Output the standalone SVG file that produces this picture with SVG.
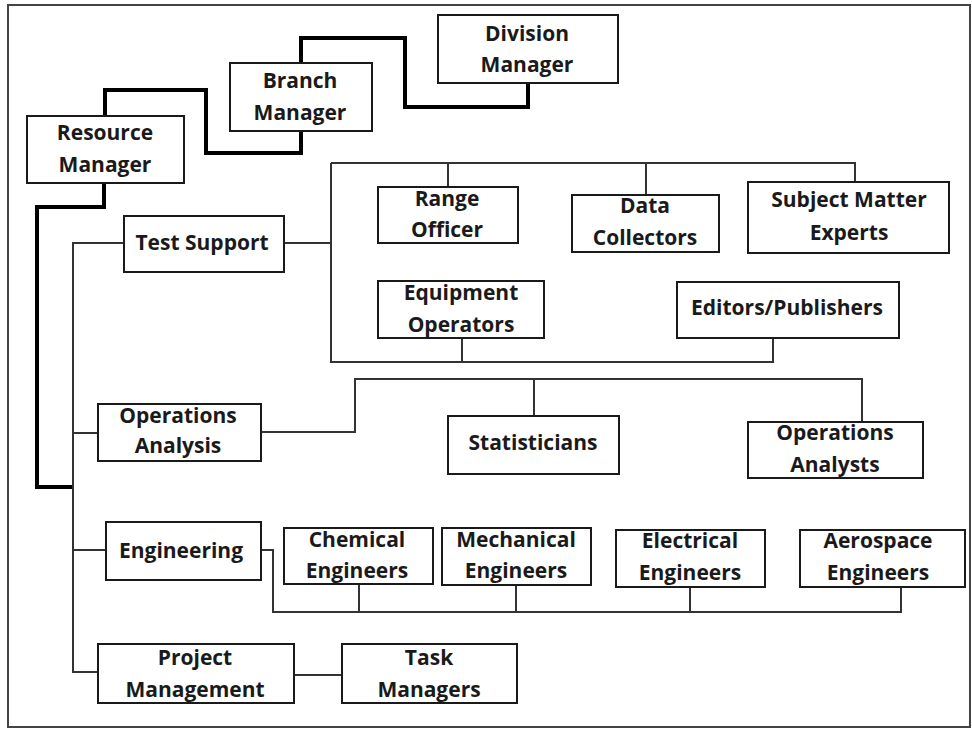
<svg xmlns="http://www.w3.org/2000/svg" width="972" height="729" viewBox="0 0 972 729">
<style>
.box{fill:#fff;stroke:#1a1a1a;stroke-width:2}
.t{font-family:"Open Sans","Liberation Sans",sans-serif;font-weight:700;font-size:21px;fill:#1a1a1a;text-anchor:middle}
.thick{fill:none;stroke:#000;stroke-width:4;stroke-linejoin:miter}
.thin{fill:none;stroke:#333;stroke-width:2}
</style>
<rect x="0" y="0" width="972" height="729" fill="#fff"/>
<rect x="8" y="5" width="962" height="722" fill="none" stroke="#444" stroke-width="2"/>
<g id="connectors">
<polyline class="thick" points="528,83 528,107 405,107 405,38 301,38 301,63"/>
<polyline class="thick" points="301,131 301,153 206,153 206,90 105,90 105,116"/>
<polyline class="thick" points="104,183 104,207 37,207 37,487 73,487"/>
<polyline class="thin" points="124,243 73,243 73,672 98,672"/>
<polyline class="thin" points="284,243 331,243"/>
<polyline class="thin" points="331,163 331,362 773,362 773,338"/>
<polyline class="thin" points="331,163 855,163 855,182"/>
<line class="thin" x1="448" y1="163" x2="448" y2="187"/>
<line class="thin" x1="646" y1="163" x2="646" y2="195"/>
<line class="thin" x1="462" y1="338" x2="462" y2="362"/>
<line class="thin" x1="73" y1="433" x2="98" y2="433"/>
<polyline class="thin" points="261,432 355,432 355,379 862,379 862,422"/>
<line class="thin" x1="534" y1="379" x2="534" y2="416"/>
<line class="thin" x1="73" y1="550" x2="106" y2="550"/>
<polyline class="thin" points="261,550 273,550 273,612 901,612 901,587"/>
<line class="thin" x1="359" y1="584" x2="359" y2="612"/>
<line class="thin" x1="516" y1="585" x2="516" y2="612"/>
<line class="thin" x1="690" y1="587" x2="690" y2="612"/>
<line class="thin" x1="294" y1="675" x2="342" y2="675"/>
</g>
<g id="division-manager"><rect class="box" x="438" y="15" width="180" height="68"/><text class="t" x="527" y="41">Division</text><text class="t" x="527" y="72">Manager</text></g>
<g id="branch-manager"><rect class="box" x="230" y="63" width="142" height="68"/><text class="t" x="300" y="88">Branch</text><text class="t" x="300" y="120">Manager</text></g>
<g id="resource-manager"><rect class="box" x="27" y="116" width="157" height="67"/><text class="t" x="105" y="140">Resource</text><text class="t" x="105" y="172">Manager</text></g>
<g id="test-support"><rect class="box" x="124" y="216" width="160" height="56"/><text class="t" x="202" y="250">Test Support</text></g>
<g id="range-officer"><rect class="box" x="378" y="187" width="140" height="56"/><text class="t" x="447" y="206">Range</text><text class="t" x="447" y="237">Officer</text></g>
<g id="data-collectors"><rect class="box" x="572" y="195" width="147" height="57"/><text class="t" x="645" y="213">Data</text><text class="t" x="645" y="245">Collectors</text></g>
<g id="subject-matter-experts"><rect class="box" x="748" y="182" width="201" height="71"/><text class="t" x="849" y="207">Subject Matter</text><text class="t" x="849" y="240">Experts</text></g>
<g id="equipment-operators"><rect class="box" x="378" y="281" width="166" height="57"/><text class="t" x="461" y="300">Equipment</text><text class="t" x="461" y="332">Operators</text></g>
<g id="editors-publishers"><rect class="box" x="677" y="282" width="222" height="56"/><text class="t" x="787" y="315">Editors/Publishers</text></g>
<g id="operations-analysis"><rect class="box" x="98" y="404" width="163" height="57"/><text class="t" x="178" y="423">Operations</text><text class="t" x="178" y="453">Analysis</text></g>
<g id="statisticians"><rect class="box" x="448" y="416" width="171" height="58"/><text class="t" x="533" y="450">Statisticians</text></g>
<g id="operations-analysts"><rect class="box" x="748" y="422" width="175" height="56"/><text class="t" x="835" y="440">Operations</text><text class="t" x="835" y="472">Analysts</text></g>
<g id="engineering"><rect class="box" x="106" y="522" width="155" height="58"/><text class="t" x="181" y="558">Engineering</text></g>
<g id="chemical-engineers"><rect class="box" x="284" y="528" width="149" height="56"/><text class="t" x="357" y="547">Chemical</text><text class="t" x="357" y="578">Engineers</text></g>
<g id="mechanical-engineers"><rect class="box" x="442" y="528" width="149" height="57"/><text class="t" x="516" y="547">Mechanical</text><text class="t" x="516" y="578">Engineers</text></g>
<g id="electrical-engineers"><rect class="box" x="616" y="530" width="149" height="57"/><text class="t" x="690" y="548">Electrical</text><text class="t" x="690" y="580">Engineers</text></g>
<g id="aerospace-engineers"><rect class="box" x="800" y="530" width="165" height="57"/><text class="t" x="878" y="548">Aerospace</text><text class="t" x="878" y="580">Engineers</text></g>
<g id="project-management"><rect class="box" x="98" y="644" width="196" height="59"/><text class="t" x="195" y="665">Project</text><text class="t" x="195" y="697">Management</text></g>
<g id="task-managers"><rect class="box" x="342" y="644" width="175" height="59"/><text class="t" x="429" y="665">Task</text><text class="t" x="429" y="697">Managers</text></g>
</svg>
